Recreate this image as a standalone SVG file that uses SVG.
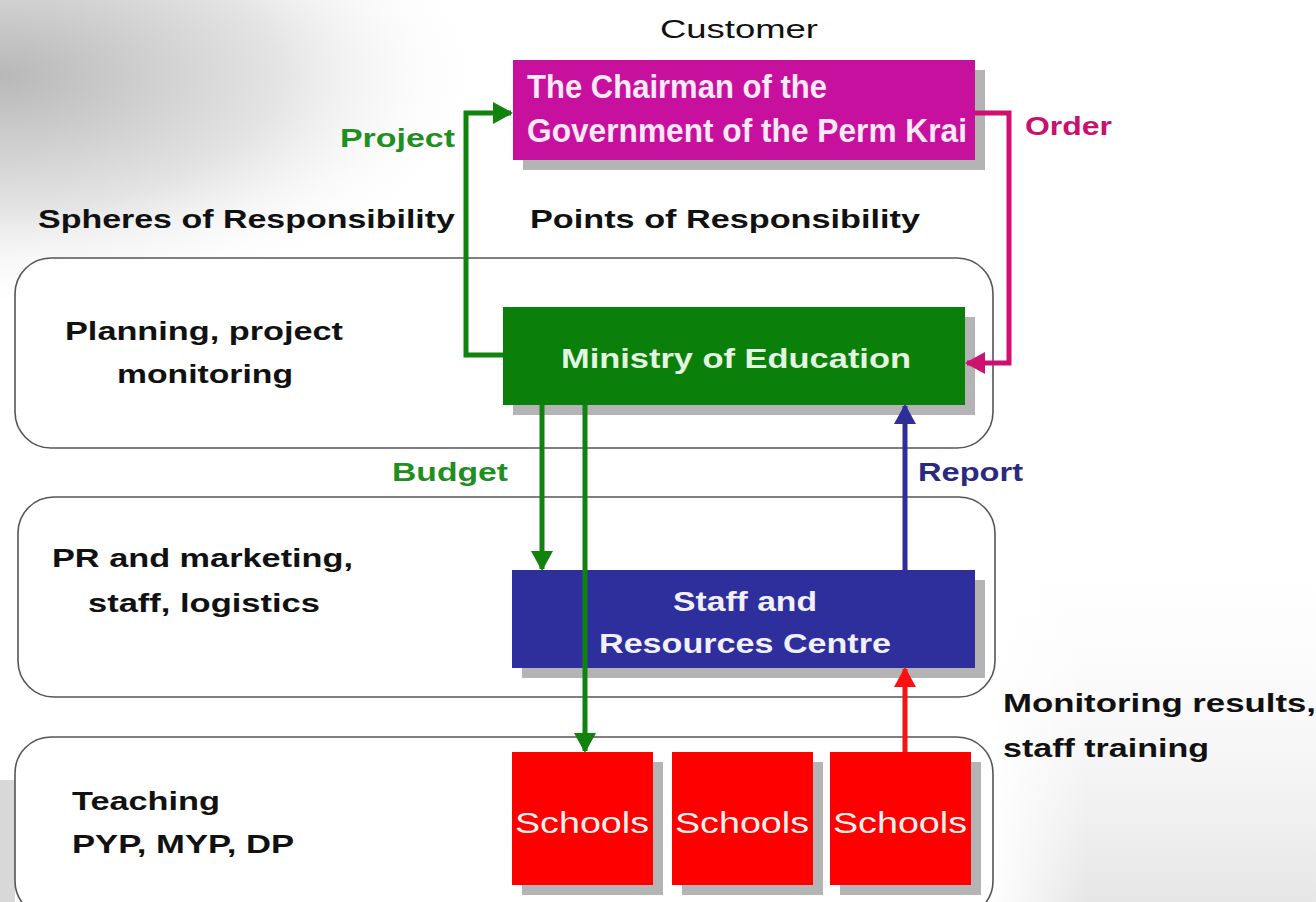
<svg xmlns="http://www.w3.org/2000/svg" width="1316" height="902" viewBox="0 0 1316 902">
<style>
  text { font-family: "Liberation Sans", Arial, sans-serif; }
  .lbl { font-size: 25px; font-weight: bold; fill: #111; }
  .band { fill: #ffffff; fill-opacity: 0.85; stroke: #555; stroke-width: 1.6; }
  .shadow { fill: #b4b4b4; }
  .node-text { font-size: 27px; font-weight: bold; text-anchor: middle; }
  .school-text { font-size: 30px; text-anchor: middle; fill: #fff0f0; }
  .conn { fill: none; stroke-width: 5; }
  .narrow { font-family: "Liberation Sans Narrow", "Liberation Sans", Arial, sans-serif; font-size: 33px; font-weight: bold; fill: #ffe8f8; }
</style>
<defs>
  <radialGradient id="tl" cx="0" cy="0.25" r="1" fx="0" fy="0.25" gradientTransform="scale(1,1)">
    <stop offset="0" stop-color="#b8b8b8"/>
    <stop offset="0.45" stop-color="#e4e4e4"/>
    <stop offset="0.8" stop-color="#ffffff" stop-opacity="0"/>
  </radialGradient>
  <linearGradient id="br" x1="0" y1="0" x2="0" y2="1">
    <stop offset="0" stop-color="#ffffff" stop-opacity="0"/>
    <stop offset="1" stop-color="#e6e6e6"/>
  </linearGradient>
  <linearGradient id="brx" x1="0" y1="0" x2="1" y2="0">
    <stop offset="0" stop-color="#ffffff" stop-opacity="1"/>
    <stop offset="0.3" stop-color="#ffffff" stop-opacity="0"/>
  </linearGradient>
  <marker id="aGreen" markerUnits="userSpaceOnUse" markerWidth="22" markerHeight="22" refX="18" refY="11" orient="auto">
    <path d="M0,0 L20,11 L0,22 Z" fill="#12820f"/>
  </marker>
  <marker id="aMag" markerUnits="userSpaceOnUse" markerWidth="22" markerHeight="22" refX="18" refY="11" orient="auto">
    <path d="M0,0 L20,11 L0,22 Z" fill="#cc1170"/>
  </marker>
  <marker id="aBlue" markerUnits="userSpaceOnUse" markerWidth="22" markerHeight="22" refX="18" refY="11" orient="auto">
    <path d="M0,0 L20,11 L0,22 Z" fill="#2e2e9a"/>
  </marker>
  <marker id="aRed" markerUnits="userSpaceOnUse" markerWidth="22" markerHeight="22" refX="18" refY="11" orient="auto">
    <path d="M0,0 L20,11 L0,22 Z" fill="#ff1010"/>
  </marker>
</defs>

<!-- background -->
<rect x="0" y="0" width="1316" height="902" fill="#ffffff"/>
<rect x="0" y="0" width="620" height="300" fill="url(#tl)"/>
<rect x="990" y="520" width="326" height="382" fill="url(#br)"/>
<rect x="990" y="520" width="326" height="382" fill="url(#brx)"/>
<rect x="0" y="780" width="15" height="122" fill="#d8d8d8"/>

<!-- section headings -->
<text x="660" y="38" font-size="26" fill="#111" textLength="158" lengthAdjust="spacingAndGlyphs">Customer</text>
<text class="lbl" x="38" y="228" textLength="417" lengthAdjust="spacingAndGlyphs">Spheres of Responsibility</text>
<text class="lbl" x="530" y="228" textLength="390" lengthAdjust="spacingAndGlyphs">Points of Responsibility</text>

<!-- bands -->
<g id="band-planning">
  <rect class="band" x="15" y="258" width="978" height="190" rx="36"/>
  <text class="lbl" x="65" y="340" textLength="278" lengthAdjust="spacingAndGlyphs">Planning, project</text>
  <text class="lbl" x="117" y="383" textLength="176" lengthAdjust="spacingAndGlyphs">monitoring</text>
</g>
<g id="band-pr">
  <rect class="band" x="18" y="497" width="977" height="200" rx="36"/>
  <text class="lbl" x="52" y="567" textLength="301" lengthAdjust="spacingAndGlyphs">PR and marketing,</text>
  <text class="lbl" x="88" y="612" textLength="232" lengthAdjust="spacingAndGlyphs">staff, logistics</text>
</g>
<g id="band-teaching">
  <rect class="band" x="15" y="737" width="978" height="180" rx="36"/>
  <text class="lbl" x="72" y="810" textLength="148" lengthAdjust="spacingAndGlyphs">Teaching</text>
  <text class="lbl" x="72" y="853" textLength="222" lengthAdjust="spacingAndGlyphs">PYP, MYP, DP</text>
</g>

<!-- nodes -->
<g id="chairman">
  <rect class="shadow" x="523" y="70" width="462" height="100"/>
  <rect x="513" y="60" width="462" height="100" fill="#c8109e"/>
  <text class="narrow" x="527" y="98" textLength="300" lengthAdjust="spacingAndGlyphs">The Chairman of the</text>
  <text class="narrow" x="527" y="142" textLength="440" lengthAdjust="spacingAndGlyphs">Government of the Perm Krai</text>
</g>
<g id="ministry">
  <rect class="shadow" x="513" y="317" width="462" height="98"/>
  <rect x="503" y="307" width="462" height="98" fill="#0a800a"/>
  <text class="node-text" x="736" y="368" fill="#e2f6e0" textLength="350" lengthAdjust="spacingAndGlyphs">Ministry of Education</text>
</g>
<g id="staff">
  <rect class="shadow" x="522" y="580" width="463" height="98"/>
  <rect x="512" y="570" width="463" height="98" fill="#2e2e9c"/>
  <text class="node-text" x="745" y="611" fill="#f0f0ff" textLength="144" lengthAdjust="spacingAndGlyphs">Staff and</text>
  <text class="node-text" x="745" y="653" fill="#f0f0ff" textLength="292" lengthAdjust="spacingAndGlyphs">Resources Centre</text>
</g>
<g id="schools-1">
  <rect class="shadow" x="522" y="762" width="141" height="133"/>
  <rect x="512" y="752" width="141" height="133" fill="#ff0000"/>
  <text class="school-text" x="582" y="833" textLength="134" lengthAdjust="spacingAndGlyphs">Schools</text>
</g>
<g id="schools-2">
  <rect class="shadow" x="682" y="762" width="141" height="133"/>
  <rect x="672" y="752" width="141" height="133" fill="#ff0000"/>
  <text class="school-text" x="742" y="833" textLength="134" lengthAdjust="spacingAndGlyphs">Schools</text>
</g>
<g id="schools-3">
  <rect class="shadow" x="840" y="762" width="141" height="133"/>
  <rect x="830" y="752" width="141" height="133" fill="#ff0000"/>
  <text class="school-text" x="900" y="833" textLength="134" lengthAdjust="spacingAndGlyphs">Schools</text>
</g>

<!-- connectors -->
<g id="connectors">
  <path class="conn" d="M503,355 H466 V113 H511" stroke="#12820f" marker-end="url(#aGreen)"/>
  <path class="conn" d="M975,113 H1009 V363 H967" stroke="#cc1170" marker-end="url(#aMag)"/>
  <path class="conn" d="M542,405 V569" stroke="#12820f" marker-end="url(#aGreen)"/>
  <path class="conn" d="M585,405 V751" stroke="#12820f" marker-end="url(#aGreen)"/>
  <path class="conn" d="M905,570 V406" stroke="#2e2e9a" marker-end="url(#aBlue)"/>
  <path class="conn" d="M905,752 V669" stroke="#ff1010" marker-end="url(#aRed)"/>
  <text x="340" y="147" font-size="25" font-weight="bold" fill="#1f8f1f" textLength="115" lengthAdjust="spacingAndGlyphs">Project</text>
  <text x="1025" y="135" font-size="25" font-weight="bold" fill="#c8106e" textLength="87" lengthAdjust="spacingAndGlyphs">Order</text>
  <text x="392" y="481" font-size="25" font-weight="bold" fill="#1f8f1f" textLength="116" lengthAdjust="spacingAndGlyphs">Budget</text>
  <text x="918" y="481" font-size="25" font-weight="bold" fill="#2a2a80" textLength="105" lengthAdjust="spacingAndGlyphs">Report</text>
  <text class="lbl" x="1003" y="712" textLength="313" lengthAdjust="spacingAndGlyphs">Monitoring results,</text>
  <text class="lbl" x="1003" y="757" textLength="206" lengthAdjust="spacingAndGlyphs">staff training</text>
</g>
</svg>
